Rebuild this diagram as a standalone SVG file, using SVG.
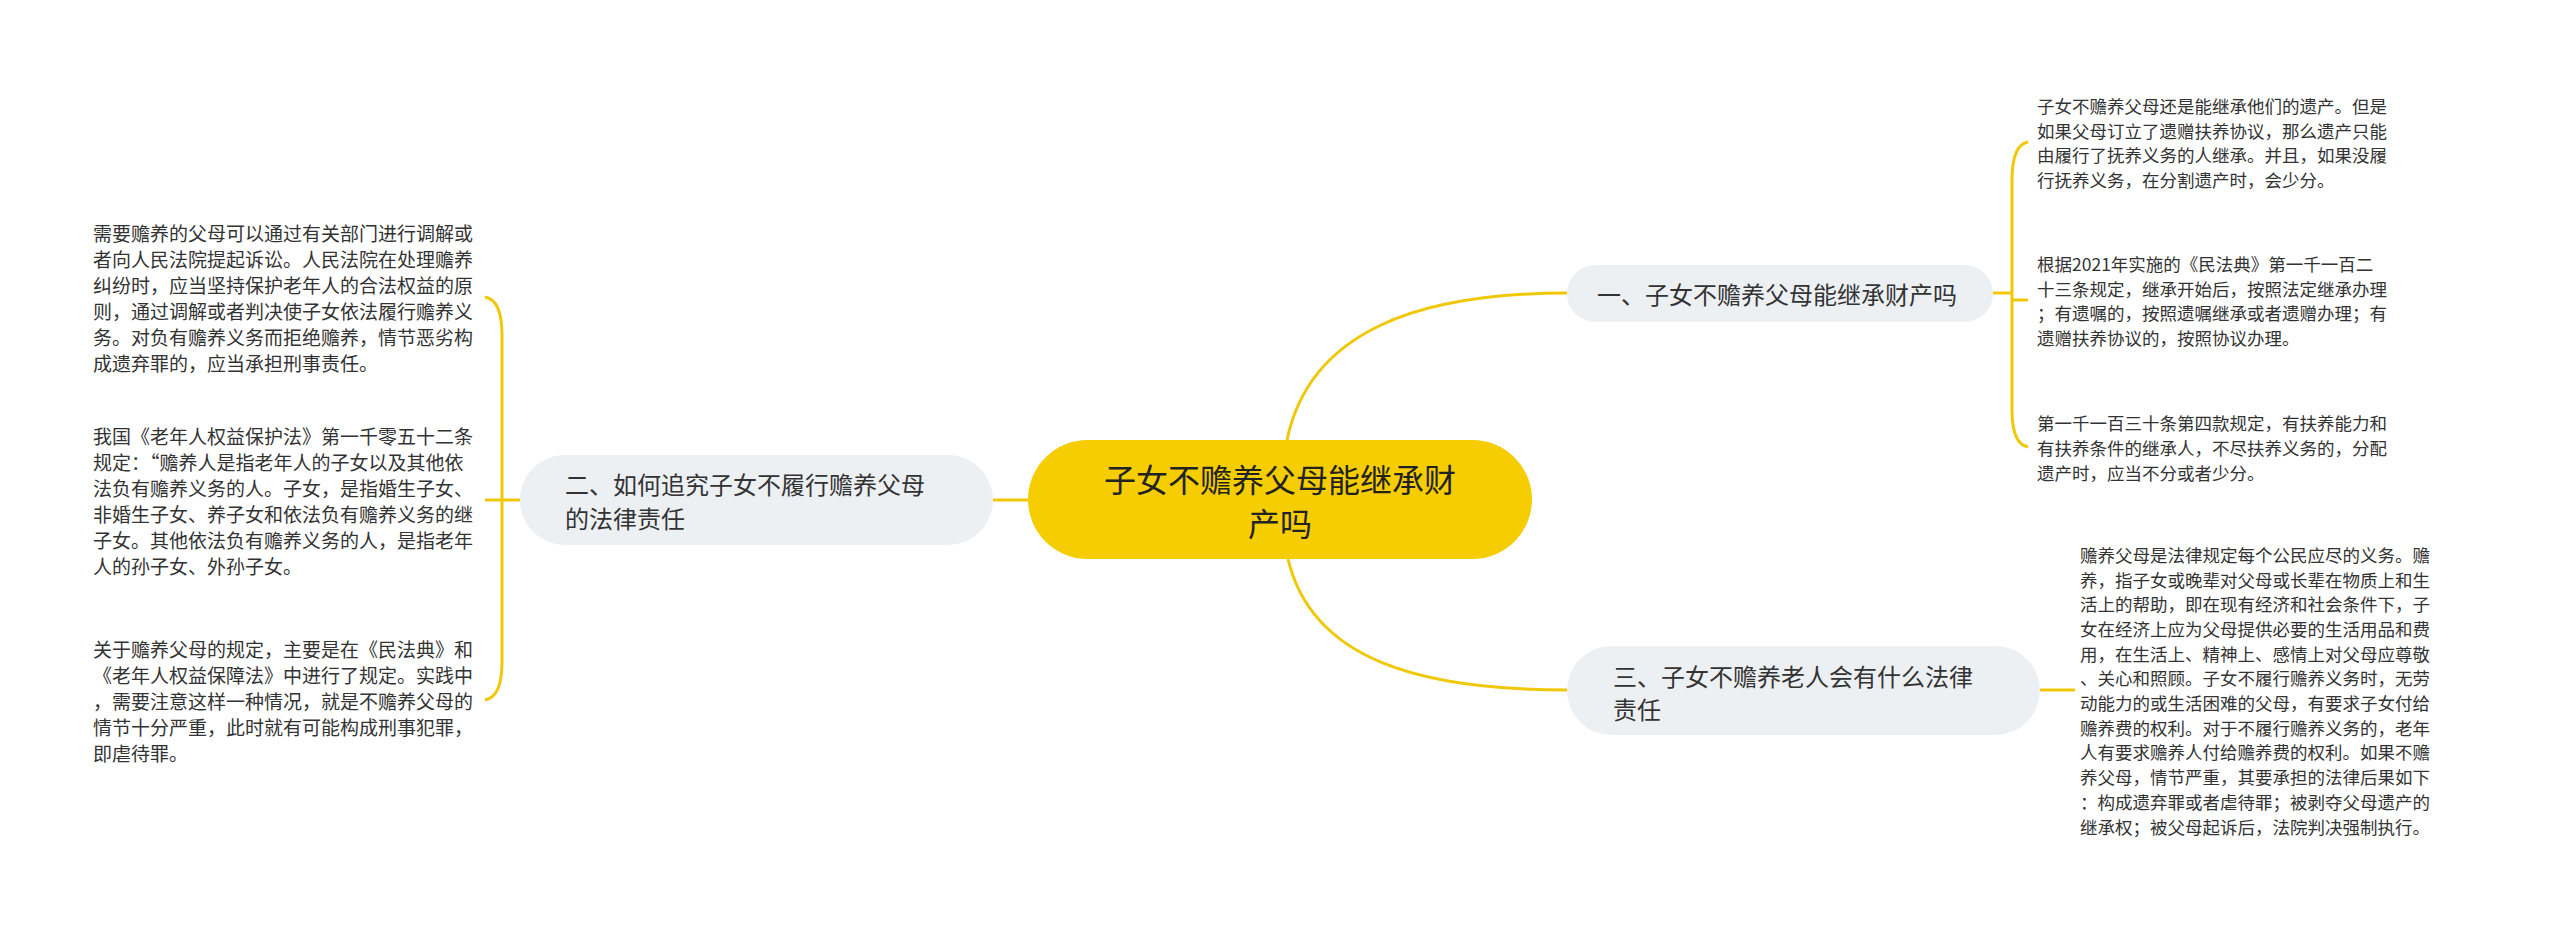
<svg xmlns="http://www.w3.org/2000/svg" width="2560" height="930" viewBox="0 0 2560 930">
<style>
.t{font-family:"Noto Sans CJK SC","Noto Sans",sans-serif;fill:#333;dominant-baseline:central}
.c{font-size:32px;fill:#222;text-anchor:middle}
.m{font-size:24px}
.r{font-size:17.5px}
.l{font-size:19px}
.gray{fill:#EDF0F3}
.ln{fill:none;stroke:#F0C808;stroke-width:3}
</style>
<rect width="2560" height="930" fill="#fff"/>
<g id="connectors">
<path class="ln" d="M1287,440 C1310,330 1420,293 1567,293"/>
<path class="ln" d="M1288,559 C1312,660 1420,690 1567,690"/>
<path class="ln" d="M1028,500 L993,500"/>
<path class="ln" d="M1993,293 L2012,293"/>
<path class="ln" d="M2028,142 Q2012,145 2012,180 L2012,410 Q2012,444 2028,447"/>
<path class="ln" d="M2012,300 L2028,300"/>
<path class="ln" d="M2040,690 L2075,690"/>
<path class="ln" d="M520,500 L485,500"/>
<path class="ln" d="M485,297 Q502,300 502,335 L502,662 Q502,697 485,700"/>
</g>
<g id="root">
<rect x="1028" y="440" width="504" height="119" rx="59.5" fill="#F5CD00"/>
<text class="t c" x="1280" y="478">子女不赡养父母能继承财</text>
<text class="t c" x="1280" y="522">产吗</text>
</g>
<g id="n1">
<rect class="gray" x="1567" y="265" width="426" height="57" rx="28.5"/>
<text class="t m" x="1597" y="293">一、子女不赡养父母能继承财产吗</text>
</g>
<g id="n2">
<rect class="gray" x="520" y="455" width="473" height="90" rx="45"/>
<text class="t m" x="565" y="483">二、如何追究子女不履行赡养父母</text>
<text class="t m" x="565" y="517">的法律责任</text>
</g>
<g id="n3">
<rect class="gray" x="1567" y="646" width="473" height="89" rx="44.5"/>
<text class="t m" x="1613" y="675">三、子女不赡养老人会有什么法律</text>
<text class="t m" x="1613" y="708">责任</text>
</g>
<g id="n1a">
<text class="t r" x="2037" y="105">子女不赡养父母还是能继承他们的遗产。但是</text>
<text class="t r" x="2037" y="130">如果父母订立了遗赠扶养协议，那么遗产只能</text>
<text class="t r" x="2037" y="154">由履行了抚养义务的人继承。并且，如果没履</text>
<text class="t r" x="2037" y="179">行抚养义务，在分割遗产时，会少分。</text>
</g>
<g id="n1b">
<text class="t r" x="2037" y="263">根据2021年实施的《民法典》第一千一百二</text>
<text class="t r" x="2037" y="288">十三条规定，继承开始后，按照法定继承办理</text>
<text class="t r" x="2037" y="312">；有遗嘱的，按照遗嘱继承或者遗赠办理；有</text>
<text class="t r" x="2037" y="337">遗赠扶养协议的，按照协议办理。</text>
</g>
<g id="n1c">
<text class="t r" x="2037" y="422">第一千一百三十条第四款规定，有扶养能力和</text>
<text class="t r" x="2037" y="447">有扶养条件的继承人，不尽扶养义务的，分配</text>
<text class="t r" x="2037" y="472">遗产时，应当不分或者少分。</text>
</g>
<g id="n3a">
<text class="t r" x="2080" y="554">赡养父母是法律规定每个公民应尽的义务。赡</text>
<text class="t r" x="2080" y="579">养，指子女或晚辈对父母或长辈在物质上和生</text>
<text class="t r" x="2080" y="603">活上的帮助，即在现有经济和社会条件下，子</text>
<text class="t r" x="2080" y="628">女在经济上应为父母提供必要的生活用品和费</text>
<text class="t r" x="2080" y="653">用，在生活上、精神上、感情上对父母应尊敬</text>
<text class="t r" x="2080" y="677">、关心和照顾。子女不履行赡养义务时，无劳</text>
<text class="t r" x="2080" y="702">动能力的或生活困难的父母，有要求子女付给</text>
<text class="t r" x="2080" y="727">赡养费的权利。对于不履行赡养义务的，老年</text>
<text class="t r" x="2080" y="751">人有要求赡养人付给赡养费的权利。如果不赡</text>
<text class="t r" x="2080" y="776">养父母，情节严重，其要承担的法律后果如下</text>
<text class="t r" x="2080" y="801">：构成遗弃罪或者虐待罪；被剥夺父母遗产的</text>
<text class="t r" x="2080" y="826">继承权；被父母起诉后，法院判决强制执行。</text>
</g>
<g id="n2a">
<text class="t l" x="93" y="232">需要赡养的父母可以通过有关部门进行调解或</text>
<text class="t l" x="93" y="258">者向人民法院提起诉讼。人民法院在处理赡养</text>
<text class="t l" x="93" y="284">纠纷时，应当坚持保护老年人的合法权益的原</text>
<text class="t l" x="93" y="310">则，通过调解或者判决使子女依法履行赡养义</text>
<text class="t l" x="93" y="336">务。对负有赡养义务而拒绝赡养，情节恶劣构</text>
<text class="t l" x="93" y="362">成遗弃罪的，应当承担刑事责任。</text>
</g>
<g id="n2b">
<text class="t l" x="93" y="435">我国《老年人权益保护法》第一千零五十二条</text>
<text class="t l" x="93" y="461">规定：“赡养人是指老年人的子女以及其他依</text>
<text class="t l" x="93" y="487">法负有赡养义务的人。子女，是指婚生子女、</text>
<text class="t l" x="93" y="513">非婚生子女、养子女和依法负有赡养义务的继</text>
<text class="t l" x="93" y="539">子女。其他依法负有赡养义务的人，是指老年</text>
<text class="t l" x="93" y="565">人的孙子女、外孙子女。</text>
</g>
<g id="n2c">
<text class="t l" x="93" y="648">关于赡养父母的规定，主要是在《民法典》和</text>
<text class="t l" x="93" y="674">《老年人权益保障法》中进行了规定。实践中</text>
<text class="t l" x="93" y="700">，需要注意这样一种情况，就是不赡养父母的</text>
<text class="t l" x="93" y="726">情节十分严重，此时就有可能构成刑事犯罪，</text>
<text class="t l" x="93" y="752">即虐待罪。</text>
</g>
</svg>
